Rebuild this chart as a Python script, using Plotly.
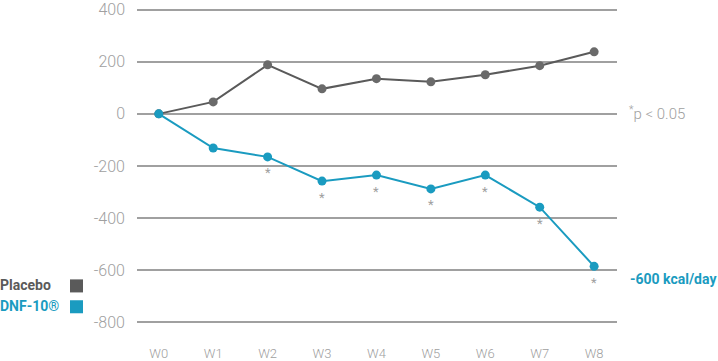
import plotly.graph_objects as go

weeks = ["W0", "W1", "W2", "W3", "W4", "W5", "W6", "W7", "W8"]
placebo = [0, 46, 188, 96, 135, 123, 150, 185, 238]
dnf10 = [0, -131, -165, -258, -235, -288, -235, -358, -585]
significant = [False, False, True, True, True, True, True, True, True]
y_ticks = [400, 200, 0, -200, -400, -600, -800]

PLACEBO_C = "#5a5a5a"
DNF_C = "#1a9bc0"
GRID_C = "#a0a0a0"
TICK_C = "#a0a0a0"
FONT = "Roboto, Arial, sans-serif"

fig = go.Figure()
fig.add_trace(go.Scatter(x=list(range(len(weeks))), y=placebo, mode="lines+markers",
                         line=dict(color=PLACEBO_C, width=2),
                         marker=dict(color="#6a6a6a", size=9), name="Placebo",
                         showlegend=False, cliponaxis=False))
fig.add_trace(go.Scatter(x=list(range(len(weeks))), y=dnf10, mode="lines+markers",
                         line=dict(color=DNF_C, width=2),
                         marker=dict(color=DNF_C, size=9), name="DNF-10®",
                         showlegend=False, cliponaxis=False))

ann = []
for i, (v, s) in enumerate(zip(dnf10, significant)):
    if s:
        ann.append(dict(x=i, y=v, xref="x", yref="y", text="*", showarrow=False,
                        yshift=-16, font=dict(color=TICK_C, size=13, family=FONT)))

ann.append(dict(x=1.02, y=5, xref="paper", yref="y", xanchor="left", showarrow=False,
                text="<sup>*</sup>p < 0.05",
                font=dict(color=TICK_C, size=15, family=FONT, weight=300)))
ann.append(dict(x=1.023, y=-632, xref="paper", yref="y", xanchor="left", showarrow=False,
                text="<b>-600 kcal/day</b>", font=dict(color=DNF_C, size=14, family=FONT)))
ann.append(dict(x=-139/480, y=-658, xref="paper", yref="y", xanchor="left", showarrow=False,
                text="<b>Placebo</b>", font=dict(color=PLACEBO_C, size=14, family=FONT)))
ann.append(dict(x=-139/480, y=-738, xref="paper", yref="y", xanchor="left", showarrow=False,
                text="<b>DNF-10®</b>", font=dict(color=DNF_C, size=14, family=FONT)))

shapes = [
    dict(type="rect", xref="paper", yref="y", x0=(70-137)/480, x1=(83-137)/480,
         y0=-685, y1=-635, fillcolor="#5a5a5a", line=dict(width=0)),
    dict(type="rect", xref="paper", yref="y", x0=(70-137)/480, x1=(83-137)/480,
         y0=-765, y1=-715, fillcolor=DNF_C, line=dict(width=0)),
]

fig.update_layout(
    width=718, height=361,
    margin=dict(l=137, r=101, t=7, b=36, autoexpand=False),
    plot_bgcolor="white", paper_bgcolor="white",
    font=dict(family=FONT),
    annotations=ann, shapes=shapes,
    xaxis=dict(range=[-0.4, 8.42], tickmode="array", tickvals=list(range(len(weeks))),
               ticktext=weeks, showgrid=False, zeroline=False, showline=False,
               automargin=False,
               tickfont=dict(color=TICK_C, size=13, family=FONT, weight=300),
               ticklabelstandoff=19),
    yaxis=dict(range=[-810, 410], tickmode="array", tickvals=y_ticks,
               ticktext=[str(t) for t in y_ticks], showgrid=True, gridcolor=GRID_C,
               gridwidth=2, zeroline=False, showline=False, automargin=False,
               tickfont=dict(color=TICK_C, size=16, family=FONT, weight=300),
               ticklabelstandoff=11),
)

fig.write_html("out.html", config={"displayModeBar": False},
               post_script="document.body.style.margin='0';")
